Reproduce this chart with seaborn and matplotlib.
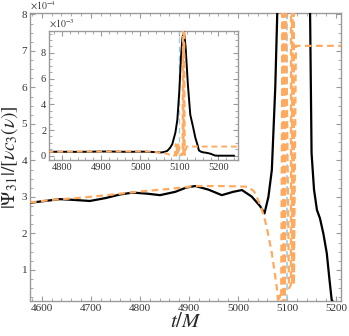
import numpy as np
import pandas as pd
import matplotlib
matplotlib.use("Agg")
import matplotlib.pyplot as plt
import seaborn as sns
from matplotlib.ticker import MultipleLocator

# ---------------- data (values in units of 1e-4) ----------------
black_t = [4576, 4600, 4637, 4665, 4698, 4730, 4760, 4786, 4815, 4841, 4872, 4895,
           4913, 4940, 4967, 4990, 5008, 5028, 5045, 5054, 5062, 5069, 5076, 5082,
           5090, 5095, 5100, 5104, 5108, 5112, 5116, 5122, 5128, 5135, 5141, 5147,
           5150, 5155, 5161, 5167, 5174, 5181, 5186, 5191, 5196, 5205, 5240]
black_v = [2.84, 2.88, 2.94, 2.92, 2.89, 2.97, 3.07, 3.12, 3.09, 3.05, 3.14, 3.26,
           3.30, 3.20, 3.05, 3.14, 3.19, 3.01, 2.75, 2.55, 3.00, 3.74, 6.0, 9.0,
           18.0, 28.0, 50.0, 75.0, 92.0, 96.0, 85.0, 55.0, 32.0, 22.6, 14.0, 8.0,
           4.2, 3.2, 2.64, 2.42, 2.0, 1.46, 0.8, 0.18, 0.08, 0.05, 0.05]

orange_t = [4576, 4620, 4680, 4740, 4800, 4860, 4913, 4960, 5000, 5021, 5033, 5041,
            5048, 5055, 5062, 5069, 5074, 5079, 5082, 5085, 5088,
            5091, 5092.5, 5094, 5095.5, 5097,
            5104, 5108, 5109.5, 5111, 5112.5, 5114,
            5118, 5250]
orange_v = [2.85, 2.92, 2.98, 3.06, 3.15, 3.22, 3.30, 3.30, 3.29, 3.28, 3.15, 2.92,
            2.68, 2.37, 1.95, 1.46, 1.00, 0.54, 0.10, 0.30, 0.05,
            9.0, 0.1, 9.0, 0.1, 9.0,
            0.5, 0.6, 120.0, 0.6, 120.0, 0.6,
            7.14, 7.14]

blue_t = 5099

x_ticks_main = [4600, 4700, 4800, 4900, 5000, 5100, 5200]
y_ticks_main = [1, 2, 3, 4, 5, 6, 7, 8]
x_ticks_inset = [4800, 4900, 5000, 5100, 5200]
y_ticks_inset = [0, 2, 4, 6, 8]

# ---------------- style ----------------
sns.set_style("ticks")
plt.rcParams["font.family"] = ["Liberation Serif", "DejaVu Serif"]
plt.rcParams["mathtext.fontset"] = "stix"

BLACK = "#000000"
ORANGE = "#FFAA5E"
BLUE = "#9DCDEA"
SPINE = "#9a9a9a"

df_b = pd.DataFrame({"t": black_t, "v": black_v})
df_o = pd.DataFrame({"t": orange_t, "v": orange_v})

fig = plt.figure(figsize=(3.49, 3.36), dpi=100)
ax = fig.add_axes([30/349, 35/336, 311/349, 288/336])


def style_axes(a, fs):
    for s in a.spines.values():
        s.set_color(SPINE)
        s.set_linewidth(1.0)
    a.tick_params(which="both", direction="in", top=True, right=True,
                  color=SPINE, labelsize=fs, labelcolor="#333333", pad=2)
    a.tick_params(which="major", length=3.5, width=0.8)
    a.tick_params(which="minor", length=2, width=0.6)


# main
ax.axvline(blue_t, color=BLUE, lw=1.2, ls=(0, (4, 2.5)), zorder=1)
sns.lineplot(data=df_b, x="t", y="v", ax=ax, color=BLACK, lw=1.6,
             estimator=None, sort=False, zorder=3)
sns.lineplot(data=df_o, x="t", y="v", ax=ax, color=ORANGE, lw=1.6,
             ls=(0, (3, 2)), estimator=None, sort=False, zorder=4)
ax.set_xlim(4576, 5210)
ax.set_ylim(0.15, 8.04)
ax.set_xticks(x_ticks_main)
ax.set_yticks(y_ticks_main)
ax.xaxis.set_minor_locator(MultipleLocator(20))
ax.yaxis.set_minor_locator(MultipleLocator(0.25))
style_axes(ax, 8)
ax.set_xlabel("$t/M$", fontsize=15, labelpad=0)
ax.set_ylabel(r"$|\Psi_{31}|/[\nu c_3(\nu)]$", fontsize=14, labelpad=1)
ax.text(0.0, 1.003, r"$\times10^{-4}$", transform=ax.transAxes, fontsize=7,
        color="#333333", va="bottom", ha="left")

# inset (units 1e-3)
axi = fig.add_axes([49/349, (336-160)/336, 189/349, 129/336])
df_bi = df_b.assign(v=df_b["v"] / 10.0)
df_oi = df_o.assign(v=df_o["v"] / 10.0)
axi.axvline(blue_t, color=BLUE, lw=1.0, ls=(0, (4, 2.5)), zorder=1)
sns.lineplot(data=df_bi, x="t", y="v", ax=axi, color=BLACK, lw=1.4,
             estimator=None, sort=False, zorder=3)
sns.lineplot(data=df_oi, x="t", y="v", ax=axi, color=ORANGE, lw=1.4,
             ls=(0, (3, 2)), estimator=None, sort=False, zorder=4)
axi.set_xlim(4767, 5250)
axi.set_ylim(-0.33, 9.7)
axi.set_xticks(x_ticks_inset)
axi.set_yticks(y_ticks_inset)
axi.xaxis.set_minor_locator(MultipleLocator(20))
axi.yaxis.set_minor_locator(MultipleLocator(0.5))
style_axes(axi, 7.5)
axi.set_xlabel("")
axi.set_ylabel("")
axi.text(0.0, 1.01, r"$\times10^{-3}$", transform=axi.transAxes, fontsize=7,
         color="#333333", va="bottom", ha="left")

fig.savefig("out.png", dpi=100)
